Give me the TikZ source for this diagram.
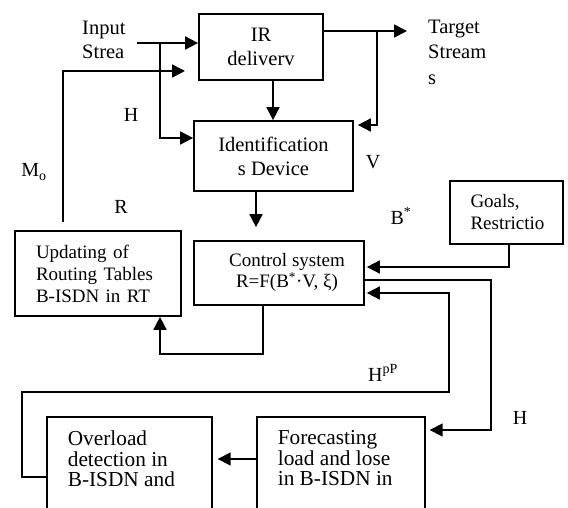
\documentclass[tikz,border=0pt]{standalone}
\usepackage{fontspec}
\setmainfont{Liberation Serif}
\usetikzlibrary{arrows.meta}

\begin{document}
\begin{tikzpicture}[x=1pt,y=-1pt,
        blk/.style={draw,line width=1.7pt,inner sep=0pt},
        arr/.style={line width=1.7pt,-{Triangle[length=13pt,width=13pt]}},
        big/.style={font=\fontsize{20.5}{24}\selectfont},
        small/.style={font=\fontsize{19}{22}\selectfont},
        low/.style={font=\fontsize{21.3}{20.5}\selectfont},
        lbl/.style={font=\fontsize{20}{24}\selectfont,inner sep=0pt}]
            \useasboundingbox (0,0) rectangle (568,508);
            \clip (0,0) rectangle (568,508);
            % blocks
            \node[blk,big,align=center,minimum width=124pt,minimum height=66pt] (ir) at (261,47) {IR\\deliverv};
            \node[blk,big,align=center,minimum width=159pt,minimum height=70pt] (ident) at (273.5,156) {Identification\\s Device};
            \node[blk,small,minimum width=170pt,minimum height=64pt] (ctrl) at (279,273) {\begin{tabular}{@{\hspace{16pt}}c@{}}Control system\\[-1pt]R=F(B\textsuperscript{*}·V, ξ)\end{tabular}};
            \node[blk,small,align=left,text width=124pt,inner xsep=21pt,minimum height=85pt] (upd) at (98,273.5) {Updating of\\Routing Tables\\B-ISDN in RT};
            \node[blk,small,align=left,text width=72pt,inner xsep=20.5pt,minimum height=63pt] (goals) at (506.5,212.5) {Goals,\\Restrictio};
            \node[blk,low,anchor=north west,inner xsep=21pt,inner ysep=14pt] (over) at (46,416) {\parbox[t][100pt][t]{123pt}{Overload\\detection in\\B-ISDN and}};
            \node[blk,low,anchor=north west,inner xsep=21pt,inner ysep=14pt] (fore) at (256,416) {\parbox[t][100pt][t]{126pt}{Forecasting\\load and lose\\in B-ISDN in}};
            % free texts
            \node[big,align=left,anchor=west,inner sep=0pt] (inp) at (82,40) {Input\\Strea};
            \node[font=\fontsize{20.5}{25.5}\selectfont,align=left,anchor=west,inner sep=0pt] (tgt) at (428,52) {Target\\Stream\\s};
            \node[lbl] (hTop) at (131,115) {H};
            \node[lbl] (mo) at (34,172) {M\textsubscript{o}};
            \node[lbl] (v) at (373,162) {V};
            \node[lbl] (r) at (121,207) {R};
            \node[lbl] (bStar) at (401,216) {B\textsuperscript{*}};
            \node[lbl] (hpp) at (383,373) {H\textsuperscript{pP}};
            \node[lbl] (hRight) at (520,418) {H};
            % branch points
            \coordinate (hBr) at (160,43);
            \coordinate (vBr) at (377,31);
            \coordinate (moEnd) at (185,71);
            \coordinate (hpL) at (22,392);
            \coordinate (hpR) at (449,392);
            % connectors
            \draw[arr] ([xshift=11pt,yshift=-3pt]inp.east) -- ([yshift=4pt]ir.west);
            \draw[arr] (hBr) |- ([yshift=18pt]ident.west);
            \draw[arr,shorten <=8pt] ([xshift=-35pt]upd.north) |- (moEnd);
            \draw[arr] ([xshift=12pt]ir.south) -- ([xshift=12pt]ir.south |- ident.north);
            \draw[arr,shorten >=21pt] ([yshift=16pt]ir.east) -- ([yshift=16pt]ir.east -| tgt.west);
            \draw[arr,shorten >=4pt] (vBr) |- ([yshift=31pt]ident.east);
            \draw[arr,shorten >=13pt] ([xshift=-17.5pt]ident.south) -- ([xshift=-17.5pt]ident.south |- ctrl.north);
            \draw[arr,shorten >=2pt] ([xshift=2.5pt]goals.south) |- ([yshift=6pt]ctrl.east);
            \draw[arr,shorten >=4pt] ([yshift=-7pt]ctrl.east) -- ++(126,0) |- ([yshift=-14pt]fore.north east);
            \draw[arr,shorten >=2pt] ([yshift=-61pt]over.north west) -| (hpL) -- (hpR) |- ([yshift=-20pt]ctrl.east);
            \draw[arr,shorten >=5pt] ([yshift=-43pt]fore.north west) -- ([yshift=-43pt]fore.north west -| over.east);
            \draw[arr] ([xshift=-16pt]ctrl.south) -- ++(0,48) -| ([xshift=62pt]upd.south);
        \end{tikzpicture}
\end{document}
